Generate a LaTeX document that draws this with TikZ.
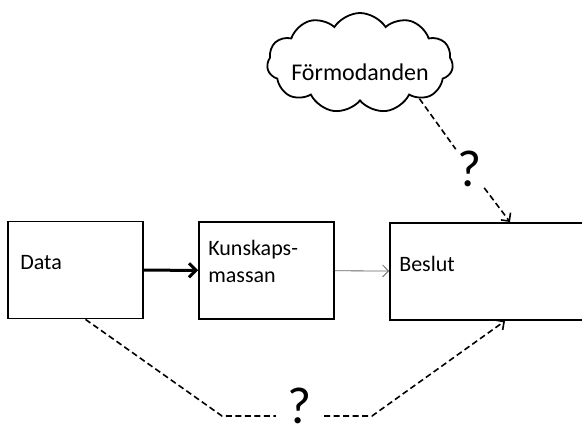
\documentclass[tikz,border=0pt]{standalone}
\usepackage{fontspec}
\setmainfont{Carlito}
\usetikzlibrary{arrows.meta,shapes.symbols,positioning}

\begin{document}
\begin{tikzpicture}[x=1pt,y=-1pt]
\tikzset{box/.style = {shape=rectangle,draw,line width=1.8pt,minimum width=135pt,minimum height=97pt}}
\tikzset{lbl/.style = {font=\fontsize{22}{27}\selectfont,align=left,inner sep=0pt}}
\tikzset{ask/.style = {font=\fontsize{52}{56}\selectfont,inner ysep=2pt,inner xsep=12pt}}
\tikzset{dline/.style = {line width=1.6pt,dash pattern=on 6pt off 3.5pt}}
\tikzset{barb/.style = {-{Straight Barb[length=6pt,width=12pt]}}}
\useasboundingbox (0,0) rectangle (582,434);
\clip (0,0) rectangle (582,434);

\node[box] (data) at (75.5,270) {};
\node[box] (kunskap) at (266.5,270.5) {};
\node[box,minimum width=240pt] (beslut) at (510,271.5) {};
\node[shape=cloud,draw,line width=1.8pt,cloud puffs=11,cloud puff arc=115,aspect=1.9,
  minimum width=186pt,minimum height=100pt,inner sep=0pt] (moln) at (360,63) {};

\node[lbl,right=13pt of data.west,yshift=7pt] (tdata) {Data};
\node[lbl,right=10pt of kunskap.west,yshift=9pt] (tkunskap) {Kunskaps-\\massan};
\node[lbl,right=10pt of beslut.west,yshift=8pt] (tbeslut) {Beslut};
\node[font=\fontsize{24}{28}\selectfont] (tmoln) at (360,72) {Förmodanden};

\node[ask,inner xsep=2pt] (q1) at (470,169) {?};
\node[ask] (q2) at (300,406) {?};
\coordinate (bt) at (510,222);
\coordinate (d1) at (222,416);
\coordinate (d2) at (372,416);

\draw[-{Straight Barb[length=7pt,width=14pt]},line width=3pt] (data) -- (kunskap);
\draw[barb,line width=0.8pt,black!60] (kunskap) -- (beslut);
\draw[dline] (moln.-31) -- (q1);
\draw[dline,barb] (q1) -- (bt);
\draw[dline] ([xshift=10pt]data.south) -- (d1) -- (d1 -| q2.west);
\draw[dline,barb] (d2 -| q2.east) -- (d2) -- ([xshift=-5pt]beslut.south);
\end{tikzpicture}
\end{document}
